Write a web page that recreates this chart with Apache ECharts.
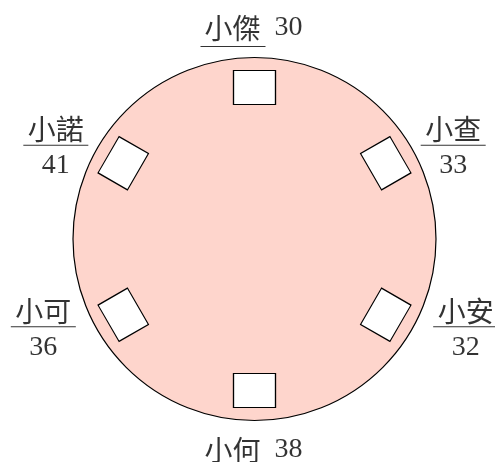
<!DOCTYPE html>
<html>
<head>
<meta charset="utf-8">
<script src="https://cdn.jsdelivr.net/npm/echarts@6/dist/echarts.min.js"></script>
<style>
html,body{margin:0;padding:0;background:#fff;}
#c{width:495px;height:462px;}
</style>
</head>
<body>
<div id="c"></div>
<script>
const names = ['小傑', '小查', '小安', '小何', '小可', '小諾'];
const scores = [30, 33, 32, 38, 36, 41];

const SERIF = "'Liberation Serif', 'Noto Sans CJK TC', serif";
const CJK = "'Noto Sans CJK TC', 'Liberation Serif', serif";
const seatR = 0.835;

function seatAngle(i) { return i * 360 / names.length; }

function labelFor(i) {
  const a = seatAngle(i);
  const inline = '{nt|' + names[i] + '}{vt|' + scores[i] + '}\n{u|}';
  const frac = '{nf|' + names[i] + '}\n{hr|}\n{vf|' + scores[i] + '}';
  if (a === 0) return { position: 'top', distance: 10, offset: [-3, 0], formatter: inline };
  if (a === 180) return { position: 'bottom', distance: 11, offset: [-3, 0], formatter: inline };
  const side = a < 180 ? 'right' : 'left';
  const upper = (a < 90 || a > 270);
  return { position: side, distance: upper ? 8.5 : 21, offset: [0, 2], formatter: frac };
}

const rich = {
  nt: { fontFamily: CJK, fontSize: 28, color: '#000', lineHeight: 36, align: 'left', padding: [0, 4, 0, 4] },
  vt: { fontFamily: SERIF, fontSize: 28, color: '#000', lineHeight: 36, align: 'left', padding: [0, 0, 0, 10] },
  u: { width: 65, height: 1, lineHeight: 1, fontSize: 1, backgroundColor: '#000', align: 'left' },
  nf: { fontFamily: CJK, fontSize: 28, color: '#000', lineHeight: 30, align: 'center' },
  hr: { width: 65, height: 1, lineHeight: 1, fontSize: 1, backgroundColor: '#000', align: 'center' },
  vf: { fontFamily: SERIF, fontSize: 28, color: '#000', lineHeight: 40, align: 'center' }
};

const chart = echarts.init(document.getElementById('c'), null, { renderer: 'canvas' });
chart.setOption({
  animation: false,
  backgroundColor: '#fff',
  polar: { center: [254.5, 239], radius: 181.5 },
  angleAxis: {
    type: 'value', min: 0, max: 360, startAngle: 90, clockwise: true,
    axisLine: { show: true, lineStyle: { color: '#000', width: 1.2 } },
    axisTick: { show: false }, axisLabel: { show: false }, splitLine: { show: false }
  },
  radiusAxis: {
    type: 'value', min: 0, max: 1, interval: 1,
    axisLine: { show: false }, axisTick: { show: false }, axisLabel: { show: false },
    splitLine: { show: false },
    splitArea: { show: true, areaStyle: { color: ['#fed5cc'] } }
  },
  series: [
    {
      type: 'scatter', coordinateSystem: 'polar', silent: true,
      symbol: 'rect', symbolSize: [42, 34],
      itemStyle: { color: '#fff', borderColor: '#000', borderWidth: 1.2, opacity: 1 },
      data: names.map((n, i) => ({ name: n, value: [seatR, seatAngle(i)], symbolRotate: -seatAngle(i) })),
      z: 3
    },
    {
      type: 'scatter', coordinateSystem: 'polar', silent: true,
      symbol: 'circle', symbolSize: 1,
      itemStyle: { color: 'rgba(0,0,0,0)' },
      label: { show: true, rich: rich },
      data: names.map((n, i) => ({ name: n, value: [1, seatAngle(i)], label: labelFor(i) })),
      z: 4
    }
  ]
});
</script>
</body>
</html>
